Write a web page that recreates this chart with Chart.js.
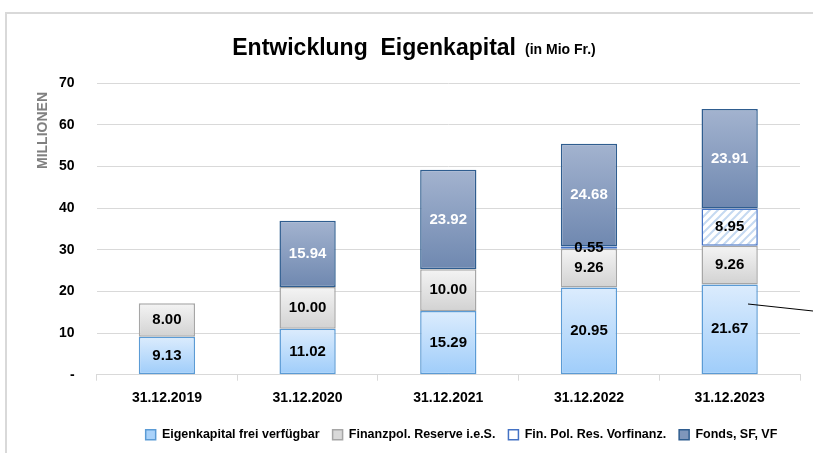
<!DOCTYPE html>
<html>
<head>
<meta charset="utf-8">
<script src="https://cdn.jsdelivr.net/npm/chart.js@4"></script>
<style>
  html, body { margin: 0; padding: 0; background: #fff; }
  #wrap { width: 813px; height: 453px; position: relative; }
</style>
</head>
<body>
<div id="wrap"><canvas id="myChart" width="813" height="453"></canvas></div>
<script>
// data
const years = ['31.12.2019', '31.12.2020', '31.12.2021', '31.12.2022', '31.12.2023'];
const eigenkapitalFrei = [9.13, 11.02, 15.29, 20.95, 21.67];
const finanzpolReserve = [8.00, 10.00, 10.00, 9.26, 9.26];
const vorfinanzierung = [null, null, null, 0.55, 8.95];
const fondsSfVf = [null, 15.94, 23.92, 24.68, 23.91];
const seriesNames = ['Eigenkapital frei verfügbar', 'Finanzpol. Reserve i.e.S.', 'Fin. Pol. Res. Vorfinanz.', 'Fonds, SF, VF'];

const FONT = "'Liberation Sans', Arial, sans-serif";

// hatch pattern for the Vorfinanzierung segment
function makeHatch() {
  const c = document.createElement('canvas');
  c.width = 8; c.height = 8;
  const g = c.getContext('2d');
  g.fillStyle = '#ffffff';
  g.fillRect(0, 0, 8, 8);
  g.strokeStyle = '#c5d9f1';
  g.lineWidth = 2;
  g.beginPath();
  g.moveTo(0, 8); g.lineTo(8, 0);
  g.moveTo(-4, 4); g.lineTo(4, -4);
  g.moveTo(4, 12); g.lineTo(12, 4);
  g.stroke();
  return g.createPattern(c, 'repeat');
}

const gradients = [
  ['#dcecfd', '#9fcdfa'],
  ['#f4f4f4', '#d2d2d2'],
  null,
  ['#a3b3cf', '#6f88b0']
];
const legendFills = ['#a9d2fa', '#d9d9d9', '#ffffff', '#7f96bb'];

// per bar vertical gradients
const gradientPlugin = {
  id: 'barGradients',
  beforeDatasetDraw(chart, args) {
    const ctx = chart.ctx;
    const cols = gradients[args.index];
    args.meta.data.forEach(el => {
      if (!cols) {
        el.options.backgroundColor = hatch;
        return;
      }
      const top = Math.min(el.y, el.base), bot = Math.max(el.y, el.base);
      if (!isFinite(top) || !isFinite(bot) || top === bot) return;
      const g = ctx.createLinearGradient(0, top, 0, bot);
      g.addColorStop(0, cols[0]);
      g.addColorStop(1, cols[1]);
      el.options.backgroundColor = g;
    });
  }
};

// value labels in the middle of each segment
const labelPlugin = {
  id: 'segLabels',
  afterDatasetsDraw(chart) {
    const ctx = chart.ctx;
    ctx.save();
    ctx.font = 'bold 15px ' + FONT;
    ctx.textAlign = 'center';
    ctx.textBaseline = 'middle';
    chart.data.datasets.forEach((ds, i) => {
      const meta = chart.getDatasetMeta(i);
      meta.data.forEach((el, j) => {
        const v = ds.data[j];
        if (v == null) return;
        ctx.fillStyle = i === 3 ? '#ffffff' : '#000000';
        ctx.fillText(v.toFixed(2), el.x, (el.y + el.base) / 2);
      });
    });
    ctx.restore();
  }
};

// move legend a bit to the right, like in the original
const legendShift = {
  id: 'legendShift',
  afterLayout(chart) {
    chart.legend.left += 43;
    chart.legend.right += 43;
  }
};

// frame, title, axis title and the stray line
const decoPlugin = {
  id: 'deco',
  beforeDraw(chart) {
    const ctx = chart.ctx;
    ctx.save();
    ctx.strokeStyle = '#d9d9d9';
    ctx.lineWidth = 2;
    ctx.strokeRect(6, 13, 820, 460);
    ctx.restore();
  },
  afterDraw(chart) {
    const ctx = chart.ctx;
    ctx.save();
    ctx.fillStyle = '#000';
    ctx.textBaseline = 'alphabetic';
    const t1 = 'Entwicklung  Eigenkapital';
    const t2 = '(in Mio Fr.)';
    ctx.font = 'bold 23px ' + FONT;
    const w1 = ctx.measureText(t1).width;
    ctx.font = 'bold 14px ' + FONT;
    const w2 = ctx.measureText(t2).width;
    const x0 = 414 - (w1 + 9 + w2) / 2;
    ctx.font = 'bold 23px ' + FONT;
    ctx.textAlign = 'left';
    ctx.fillText(t1, x0, 55);
    ctx.font = 'bold 14px ' + FONT;
    ctx.fillText(t2, x0 + w1 + 9, 54);

    // y axis title
    ctx.save();
    ctx.translate(47, 92);
    ctx.rotate(-Math.PI / 2);
    ctx.font = 'bold 14px ' + FONT;
    ctx.fillStyle = '#808080';
    ctx.textAlign = 'right';
    ctx.fillText('MILLIONEN', 0, 0);
    ctx.restore();

    ctx.strokeStyle = '#000';
    ctx.lineWidth = 1;
    ctx.beginPath();
    ctx.moveTo(748, 304);
    ctx.lineTo(813, 311);
    ctx.stroke();
    ctx.restore();
  }
};

const hatch = makeHatch();

const borderColors = ['#5b9bd5', '#a6a6a6', '#4472c4', '#2f5d8f'];
const dataArrays = [eigenkapitalFrei, finanzpolReserve, vorfinanzierung, fondsSfVf];

const ctx = document.getElementById('myChart').getContext('2d');
const myChart = new Chart(ctx, {
  type: 'bar',
  data: {
    labels: years,
    datasets: dataArrays.map((arr, i) => ({
      label: seriesNames[i],
      data: arr,
      backgroundColor: () => '#ffffff',
      borderColor: borderColors[i],
      borderWidth: 1.5,
      borderSkipped: false,
      categoryPercentage: 1,
      barPercentage: 0.4
    }))
  },
  options: {
    responsive: false,
    animation: false,
    layout: { padding: { top: 83, right: 13, left: 37, bottom: 2 } },
    plugins: {
      tooltip: { enabled: false },
      legend: {
        position: 'bottom',
        labels: {
          boxWidth: 10,
          boxHeight: 10,
          padding: 13,
          color: '#000',
          font: { family: FONT, size: 12.5, weight: 'bold' },
          generateLabels(chart) {
            return chart.data.datasets.map((ds, i) => ({
              text: ds.label,
              fillStyle: legendFills[i],
              strokeStyle: borderColors[i],
              lineWidth: 1.5,
              datasetIndex: i
            }));
          }
        }
      }
    },
    scales: {
      x: {
        stacked: true,
        grid: { display: true, drawOnChartArea: false, tickLength: 6, color: '#d9d9d9' },
        border: { color: '#d9d9d9' },
        ticks: { color: '#000', padding: 9, font: { family: FONT, size: 14, weight: 'bold' } }
      },
      y: {
        stacked: true,
        min: 0,
        max: 70,
        ticks: {
          stepSize: 10,
          color: '#000',
          padding: 22,
          font: { family: FONT, size: 14, weight: 'bold' },
          callback: v => v === 0 ? '-' : v
        },
        grid: { color: '#d9d9d9', drawTicks: false },
        border: { display: false }
      }
    }
  },
  plugins: [gradientPlugin, labelPlugin, legendShift, decoPlugin]
});
</script>
</body>
</html>
